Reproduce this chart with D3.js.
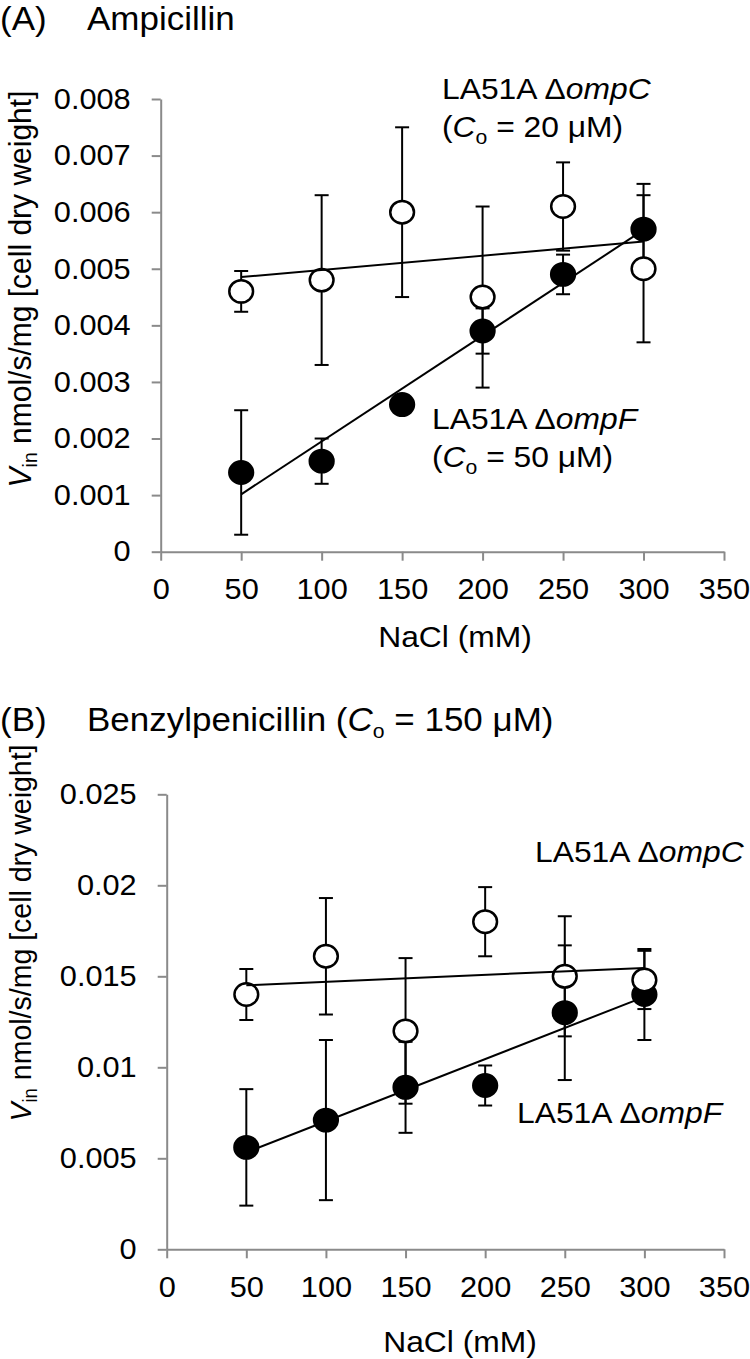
<!DOCTYPE html>
<html>
<head>
<meta charset="utf-8">
<script src="https://cdn.jsdelivr.net/npm/d3@7"></script>
<style>
  html, body { margin: 0; padding: 0; background: #fff; }
  svg { display: block; font-family: "Liberation Sans", Arial, sans-serif; }
</style>
</head>
<body>
<svg id="chart" width="750" height="1359"></svg>
<script>
// ---------- data ----------
const nacl = [50, 100, 150, 200, 250, 300];
const xTicks = [0, 50, 100, 150, 200, 250, 300, 350];

// Panel A: Ampicillin
const ampOmpC    = [0.0046, 0.0048, 0.0060, 0.0045, 0.0061, 0.0050];
const ampOmpCErr = [0.00036, 0.0015, 0.0015, 0.0016, 0.00078, 0.0013];
const ampOmpF    = [0.0014, 0.0016, 0.0026, 0.0039, 0.0049, 0.0057];
const ampOmpFErr = [0.0011, 0.0004, 0.0001, 0.0004, 0.00035, 0.0008];
const yTicksA = [0, 0.001, 0.002, 0.003, 0.004, 0.005, 0.006, 0.007, 0.008];
const yLabelsA = ["0", "0.001", "0.002", "0.003", "0.004", "0.005", "0.006", "0.007", "0.008"];

// Panel B: Benzylpenicillin
const penOmpC    = [0.0140, 0.0161, 0.0120, 0.0180, 0.0150, 0.0148];
const penOmpCErr = [0.0014, 0.0032, 0.0040, 0.0019, 0.0033, 0.0016];
const penOmpF    = [0.0056, 0.0071, 0.0089, 0.0090, 0.0130, 0.0140];
const penOmpFErr = [0.0032, 0.0044, 0.0025, 0.0011, 0.0037, 0.0025];
const yTicksB = [0, 0.005, 0.01, 0.015, 0.02, 0.025];
const yLabelsB = ["0", "0.005", "0.01", "0.015", "0.02", "0.025"];

// ---------- helpers ----------
const svg = d3.select("#chart");
const AXIS = "#8a8a8a";
const TICKFONT = 29;
const SX = 1.06;   // horizontal stretch of the original artwork

function txt(x, y, size, rot) {
  return svg.append("text")
    .attr("transform", `translate(${x},${y}) scale(${SX},1)` + (rot ? ` rotate(${rot})` : ""))
    .attr("font-size", size).attr("fill", "#000");
}

function linreg(xs, ys) {
  const n = xs.length;
  const mx = d3.mean(xs), my = d3.mean(ys);
  let sxy = 0, sxx = 0;
  for (let i = 0; i < n; i++) { sxy += (xs[i] - mx) * (ys[i] - my); sxx += (xs[i] - mx) ** 2; }
  const b = sxy / sxx;
  return x => my + b * (x - mx);
}

function panel(cfg) {
  const g = svg.append("g");
  const x = d3.scaleLinear().domain([0, 350]).range([cfg.x0, cfg.x1]);
  const y = d3.scaleLinear().domain([0, cfg.yMax]).range([cfg.y0, cfg.y1]);

  // axes
  const yAxis = d3.axisLeft(y).tickValues(cfg.yTicks)
    .tickFormat((d, i) => cfg.yLabels[i]).tickSize(9).tickPadding(21).tickSizeOuter(0);
  const ya = g.append("g").attr("transform", `translate(${cfg.x0},0)`).call(yAxis);
  const xAxis = d3.axisBottom(x).tickValues(xTicks).tickFormat(d => String(d))
    .tickSize(9).tickPadding(18).tickSizeOuter(0);
  const xa = g.append("g").attr("transform", `translate(0,${cfg.y0})`).call(xAxis);
  [ya, xa].forEach(a => {
    a.select(".domain").attr("stroke", AXIS).attr("stroke-width", 2);
    a.selectAll(".tick line").attr("stroke", AXIS).attr("stroke-width", 2);
    a.selectAll(".tick text").attr("fill", "#000").attr("font-size", TICKFONT)
      .attr("font-family", "Liberation Sans, Arial, sans-serif")
      .each(function () {
        const t = d3.select(this);
        const ox = +t.attr("x") || 0;
        t.attr("x", ox / SX).attr("transform", `scale(${SX},1)`);
      });
  });

  // series: filled first, open on top
  const series = [
    { v: cfg.fVals, e: cfg.fErr, fill: "#000" },
    { v: cfg.cVals, e: cfg.cErr, fill: "#fff" }
  ];
  series.forEach(s => {
    const sg = g.append("g");
    const pts = nacl.map((n, i) => ({ n, v: s.v[i], e: s.e[i] }));
    sg.selectAll("line.eb").data(pts).join("line").attr("class", "eb")
      .attr("x1", d => x(d.n)).attr("x2", d => x(d.n))
      .attr("y1", d => y(d.v - d.e)).attr("y2", d => y(d.v + d.e))
      .attr("stroke", "#000").attr("stroke-width", 2);
    [1, -1].forEach(sign => {
      sg.selectAll(null).data(pts).join("line")
        .attr("x1", d => x(d.n) - 7).attr("x2", d => x(d.n) + 7)
        .attr("y1", d => y(d.v + sign * d.e)).attr("y2", d => y(d.v + sign * d.e))
        .attr("stroke", "#000").attr("stroke-width", 2);
    });
    sg.selectAll("ellipse").data(pts).join("ellipse")
      .attr("cx", d => x(d.n)).attr("cy", d => y(d.v))
      .attr("rx", 11.2 * SX).attr("ry", 11.2)
      .attr("fill", s.fill).attr("stroke", "#000").attr("stroke-width", 2.5);
  });

  // trend lines
  [cfg.fVals, cfg.cVals].forEach(vals => {
    const f = linreg(nacl, vals);
    g.append("line")
      .attr("x1", x(50)).attr("y1", y(f(50)))
      .attr("x2", x(300)).attr("y2", y(f(300)))
      .attr("stroke", "#000").attr("stroke-width", 2);
  });

  // x axis title
  txt(cfg.xTitleX, cfg.xTitleY, 30).attr("text-anchor", "middle").text("NaCl (mM)");

  // y axis title
  const yt = txt(cfg.yTitleX, cfg.yTitleY, cfg.yTitleSize, -90).attr("text-anchor", "middle");
  yt.append("tspan").attr("font-style", "italic").text("V");
  yt.append("tspan").attr("font-size", cfg.yTitleSize * 0.65).attr("dy", 6).text("in");
  yt.append("tspan").attr("dy", -6).text(" nmol/s/mg [cell dry weight]");
  return { g, x, y };
}

function addCo(textSel, before, value) {
  textSel.append("tspan").text(before);
  textSel.append("tspan").attr("font-style", "italic").text("C");
  textSel.append("tspan").attr("font-size", 20).attr("dy", 7).text("o");
  textSel.append("tspan").attr("dy", -7).text(" = " + value + " \u03BCM)");
}

function strainLabel(x, y, gene) {
  const t = txt(x, y, 30);
  t.append("tspan").text("LA51A \u0394");
  t.append("tspan").attr("font-style", "italic").text(gene);
  return t;
}

// ---------- Panel A ----------
panel({
  x0: 160.7, x1: 724, y0: 551.7, y1: 99, yMax: 0.008,
  yTicks: yTicksA, yLabels: yLabelsA,
  cVals: ampOmpC, cErr: ampOmpCErr, fVals: ampOmpF, fErr: ampOmpFErr,
  xTitleX: 455, xTitleY: 647, yTitleX: 31, yTitleY: 289, yTitleSize: 30
});
txt(0, 30, 33).text("(A)");
txt(87, 30, 33).text("Ampicillin");

strainLabel(442, 99, "ompC");
addCo(txt(442, 137, 30), "(", "20");
strainLabel(432, 429, "ompF");
addCo(txt(432, 467, 30), "(", "50");

// ---------- Panel B ----------
panel({
  x0: 166.7, x1: 724, y0: 1249.3, y1: 794.3, yMax: 0.025,
  yTicks: yTicksB, yLabels: yLabelsB,
  cVals: penOmpC, cErr: penOmpCErr, fVals: penOmpF, fErr: penOmpFErr,
  xTitleX: 460, xTitleY: 1352, yTitleX: 31, yTitleY: 933, yTitleSize: 28.5
});
txt(0, 731, 33).text("(B)");
addCo(txt(87, 731, 33), "Benzylpenicillin (", "150");

strainLabel(535, 862, "ompC");
strainLabel(517, 1123, "ompF");
</script>
</body>
</html>
